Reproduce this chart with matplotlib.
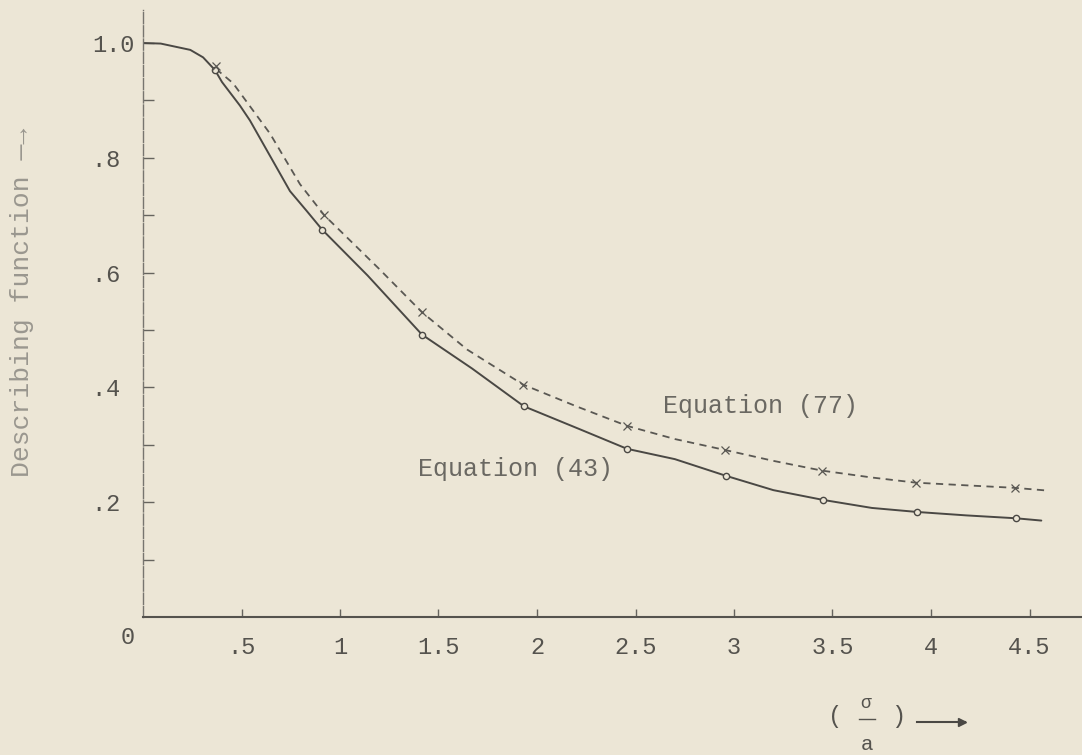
import matplotlib.pyplot as plt
from matplotlib.lines import Line2D

# Valores (escala del papel)
eq43_x = [0.365, 0.909, 1.416, 1.934, 2.457, 2.959, 3.452, 3.929, 4.431]
eq43_y = [0.953, 0.675, 0.492, 0.367, 0.293, 0.246, 0.204, 0.183, 0.172]
eq77_x = [0.37, 0.92, 1.416, 1.929, 2.457, 2.954, 3.447, 3.924, 4.426]
eq77_y = [0.96, 0.700, 0.531, 0.405, 0.333, 0.291, 0.255, 0.234, 0.225]

# Trazo de las curvas dibujadas a mano
curva43_x = [0.0, 0.09, 0.24, 0.305, 0.365, 0.401, 0.492, 0.543, 0.609, 0.68, 0.746,
             0.832, 0.909, 1.14, 1.416, 1.67, 1.934, 2.218, 2.457, 2.7, 2.959, 3.2,
             3.452, 3.7, 3.929, 4.18, 4.431, 4.56]
curva43_y = [1.0, 0.999, 0.988, 0.975, 0.953, 0.932, 0.891, 0.865, 0.825, 0.782, 0.742,
             0.707, 0.675, 0.595, 0.492, 0.433, 0.367, 0.327, 0.293, 0.275, 0.246, 0.221,
             0.204, 0.19, 0.183, 0.177, 0.172, 0.168]
curva77_x = [0.37, 0.457, 0.645, 0.797, 0.92, 1.20, 1.416, 1.645, 1.929, 2.2, 2.457,
             2.7, 2.954, 3.2, 3.447, 3.7, 3.924, 4.2, 4.426, 4.60]
curva77_y = [0.955, 0.930, 0.842, 0.754, 0.700, 0.606, 0.531, 0.466, 0.405, 0.367, 0.333,
             0.31, 0.291, 0.272, 0.255, 0.243, 0.234, 0.229, 0.225, 0.22]

yticks = [0.2, 0.4, 0.6, 0.8, 1.0]
yticklabels = [".2 ", ".4 ", ".6 ", ".8 ", "1.0"]
yminor = [0.1, 0.3, 0.5, 0.7, 0.9]
xticks = [0.5, 1.0, 1.5, 2.0, 2.5, 3.0, 3.5, 4.0, 4.5]
xticklabels = [".5", "1", "1.5", "2", "2.5", "3", "3.5", "4", "4.5"]

papel = "#ece6d6"
tinta = "#4a4844"
fuente = ["Liberation Mono", "DejaVu Sans Mono"]
plt.rcParams["font.family"] = fuente

W, H = 1082, 755
fig = plt.figure(figsize=(W / 100, H / 100), dpi=100, facecolor=papel)
ax = fig.add_axes([143 / W, (H - 617) / H, (W - 143) / W, (617 - 10) / H])
ax.set_facecolor(papel)
ax.set_xlim(0, 939 / 197)
ax.set_ylim(0, 607 / 574)

ax.plot(curva43_x, curva43_y, color=tinta, lw=1.4, solid_capstyle="round")
ax.plot(curva77_x, curva77_y, color="#5a5853", lw=1.3, linestyle=(0, (4, 3)))
ax.plot(eq43_x, eq43_y, linestyle="none", marker="o", ms=4.5, mfc=papel,
        mec=tinta, mew=1.0)
ax.plot(eq77_x, eq77_y, linestyle="none", marker="x", ms=6, mec="#5a5853", mew=0.9)

ax.text(2.64, 0.368, "Equation (77)", fontsize=18, color="#6a6862", va="center")
ax.text(1.396, 0.257, "Equation (43)", fontsize=18, color="#6a6862", va="center")

# Ejes
for lado in ["top", "right"]:
    ax.spines[lado].set_visible(False)
ax.spines["left"].set_color("#77756f")
ax.spines["left"].set_linewidth(1.0)
ax.spines["left"].set_linestyle((0, (8, 1.5)))
ax.spines["bottom"].set_color("#55534e")
ax.spines["bottom"].set_linewidth(1.5)

ax.set_yticks(yticks)
ax.set_yticklabels(yticklabels)
ax.set_yticks(yminor, minor=True)
ax.set_xticks(xticks)
ax.set_xticklabels(xticklabels)
ax.tick_params(axis="y", which="both", direction="in", length=8, width=1.0,
               color="#66645e", labelsize=17, labelcolor="#55534e", pad=6)
ax.tick_params(axis="x", direction="in", length=6, width=1.0, color="#66645e",
               labelsize=17, labelcolor="#55534e", pad=14)

fig.text(128 / W, 1 - 637 / H, "0", fontsize=17, color="#55534e", ha="center", va="center")
fig.text(22 / W, 1 - 302 / H, "Describing function \u2014\u2192", fontsize=19,
         color="#9a978f", rotation=90, ha="center", va="center")

# Etiqueta del eje x: ( sigma / a ) ->
fig.text(835 / W, 1 - 717 / H, "(", fontsize=17, color="#55534e", ha="center", va="center")
fig.text(866 / W, 1 - 704 / H, "\u03c3", fontsize=13, color="#55534e", ha="center", va="center")
fig.text(867 / W, 1 - 745 / H, "a", fontsize=15, color="#55534e", ha="center", va="center")
fig.text(898 / W, 1 - 717 / H, ")", fontsize=17, color="#55534e", ha="center", va="center")
fig.add_artist(Line2D([859 / W, 875 / W], [1 - 719 / H, 1 - 719 / H], color="#55534e", lw=1.0))
fig.add_artist(Line2D([917 / W, 965 / W], [1 - 722 / H, 1 - 722 / H], color="#4a4844", lw=1.5))
fig.add_artist(Line2D([962 / W], [1 - 722 / H], marker=">", ms=6, color="#4a4844"))

fig.savefig("out.png", dpi=100, facecolor=papel)
